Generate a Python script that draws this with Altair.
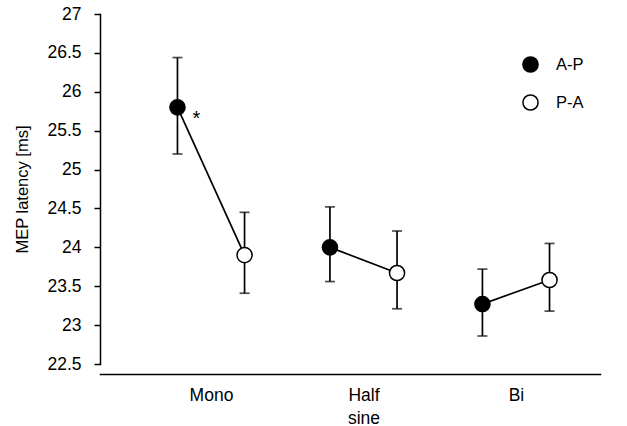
import altair as alt
import pandas as pd

categories = ["Mono", "Half sine", "Bi"]
directions = ["A-P", "P-A"]
cat_col = ["Mono", "Mono", "Half sine", "Half sine", "Bi", "Bi"]
dir_col = ["A-P", "P-A", "A-P", "P-A", "A-P", "P-A"]
means = [25.80, 23.90, 24.00, 23.67, 23.27, 23.58]
upper = [26.44, 24.45, 24.52, 24.21, 23.72, 24.05]
lower = [25.20, 23.41, 23.56, 23.21, 22.86, 23.18]
y_ticks = [22.5, 23, 23.5, 24, 24.5, 25, 25.5, 26, 26.5, 27]

df = pd.DataFrame({"cat": cat_col, "dir": dir_col, "mean": means, "hi": upper, "lo": lower})
star_df = pd.DataFrame({"cat": ["Mono"], "dir": ["A-P"], "mean": [25.80], "label": ["*"]})

cat_list = "[" + ",".join("'%s'" % c for c in categories) + "]"
pos_expr = "indexof(%s, datum.cat) + 1 + (datum.dir == 'A-P' ? -0.22 : 0.22)" % cat_list
label_expr = "split(%s[round(datum.value) - 1], ' ')" % cat_list

FONT = "Liberation Sans"
LW = 1.7

xscale = alt.Scale(domain=[0.272, 3.551], nice=False, zero=False)
yscale = alt.Scale(domain=[22.5, 27], nice=False, zero=False)

xenc = alt.X("pos:Q", scale=xscale,
             axis=alt.Axis(values=[1, 2, 3], tickCount=3, labelExpr=label_expr, title=None,
                           ticks=False, grid=False, offset=10, domainColor="black",
                           domainWidth=1.5, labelFontSize=17.5, labelFont=FONT,
                           labelColor="black", labelPadding=12, labelLineHeight=23,
                           labelOverlap=False))
yenc = alt.Y("mean:Q", scale=yscale,
             axis=alt.Axis(values=y_ticks, tickCount=len(y_ticks),
                           title="MEP latency [ms]", grid=False, domainColor="black",
                           domainWidth=1.5, tickColor="black", tickWidth=1.5, tickSize=6,
                           labelFontSize=17.5, labelFont=FONT, labelColor="black",
                           labelPadding=13, labelOverlap=False, labelBound=False,
                           titleFontSize=16.5, titleFont=FONT,
                           titleFontWeight="normal", titleColor="black", titlePadding=16,
                           labelExpr="datum.value"))

base = alt.Chart(df).transform_calculate(pos=pos_expr)

bars = base.mark_rule(color="black", strokeWidth=LW).encode(
    x=xenc, y=alt.Y("lo:Q", scale=yscale), y2="hi:Q")
caps_hi = base.mark_tick(color="black", orient="horizontal", size=10, thickness=LW).encode(
    x=alt.X("pos:Q", scale=xscale), y=alt.Y("hi:Q", scale=yscale))
caps_lo = base.mark_tick(color="black", orient="horizontal", size=10, thickness=LW).encode(
    x=alt.X("pos:Q", scale=xscale), y=alt.Y("lo:Q", scale=yscale))
line = base.mark_line(color="black", strokeWidth=LW).encode(
    x=alt.X("pos:Q", scale=xscale), y=yenc, detail="cat:N")
points = base.mark_point(filled=False, shape="circle", size=230, stroke="black",
                         strokeWidth=1.5, opacity=1).encode(
    x=alt.X("pos:Q", scale=xscale), y=alt.Y("mean:Q", scale=yscale),
    fill=alt.Fill("dir:N", scale=alt.Scale(domain=directions, range=["black", "white"]),
                  legend=alt.Legend(title=None, orient="none", legendX=422, legendY=42,
                                    symbolSize=230, symbolStrokeColor="black",
                                    symbolStrokeWidth=1.5, symbolType="circle",
                                    labelFontSize=16.5, labelFont=FONT, labelColor="black",
                                    rowPadding=15, labelOffset=17)))
star = alt.Chart(star_df).transform_calculate(pos=pos_expr).mark_text(
    text="*", fontSize=20, font=FONT, color="black", dx=19, dy=12).encode(
    x=alt.X("pos:Q", scale=xscale), y=alt.Y("mean:Q", scale=yscale))

chart = alt.layer(bars, caps_hi, caps_lo, line, points, star).properties(
    width=500, height=350,
    autosize=alt.AutoSizeParams(type="none"),
    padding={"left": 100, "top": 14, "right": 27, "bottom": 62},
).configure_view(stroke=None).configure_axis(domainCap="square")

chart.save("out.html", embed_options={"renderer": "svg", "actions": False})
